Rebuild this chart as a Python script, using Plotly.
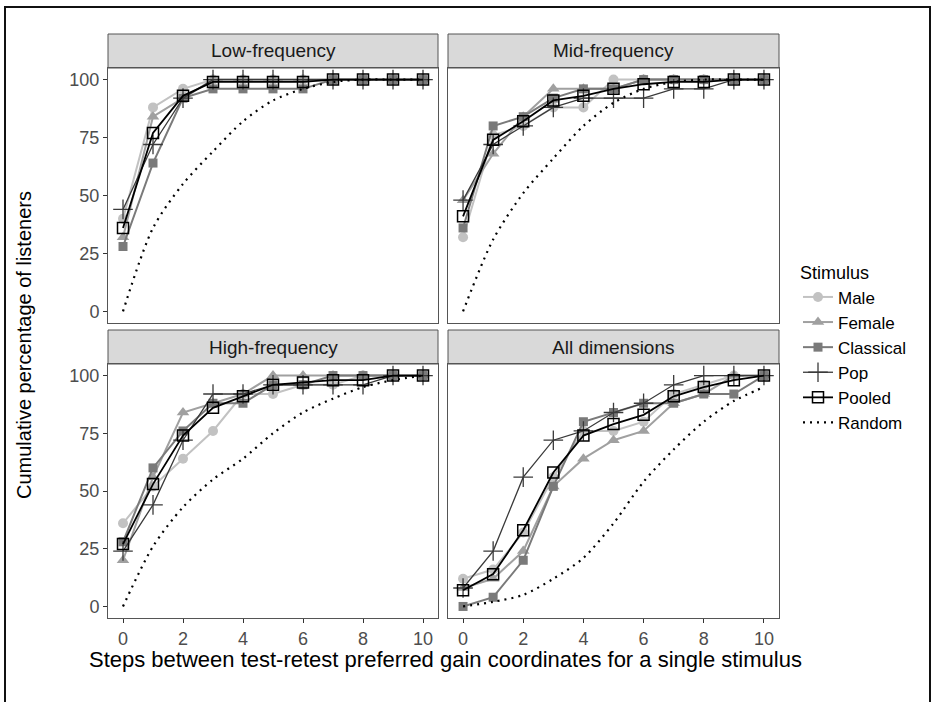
import plotly.graph_objects as go

W, H = 934, 702

steps = list(range(11))
panel_titles = ["Low-frequency", "Mid-frequency", "High-frequency", "All dimensions"]
series_names = ["Male", "Female", "Classical", "Pop", "Pooled", "Random"]
y_ticks = [0, 25, 50, 75, 100]
x_ticks = [0, 2, 4, 6, 8, 10]

# Low-frequency
low_male = [40, 88, 96, 100, 100, 100, 100, 100, 100, 100, 100]
low_female = [32, 84, 92, 100, 100, 100, 100, 100, 100, 100, 100]
low_classical = [28, 64, 92, 96, 96, 96, 96, 100, 100, 100, 100]
low_pop = [44, 72, 92, 100, 100, 100, 100, 100, 100, 100, 100]
low_pooled = [36, 77, 93, 99, 99, 99, 99, 100, 100, 100, 100]
low_random = [0, 36, 55, 69, 82, 91, 96, 99, 100, 100, 100]

# Mid-frequency
mid_male = [32, 76, 80, 88, 88, 100, 100, 100, 100, 100, 100]
mid_female = [48, 68, 84, 96, 96, 96, 100, 100, 100, 100, 100]
mid_classical = [36, 80, 84, 92, 96, 96, 100, 100, 100, 100, 100]
mid_pop = [48, 72, 80, 88, 92, 92, 92, 96, 96, 100, 100]
mid_pooled = [41, 74, 82, 91, 93, 96, 98, 99, 99, 100, 100]
mid_random = [0, 31, 51, 66, 80, 90, 96, 99, 100, 100, 100]

# High-frequency
high_male = [36, 52, 64, 76, 92, 92, 96, 96, 100, 100, 100]
high_female = [20, 56, 84, 88, 92, 100, 100, 100, 100, 100, 100]
high_classical = [28, 60, 76, 88, 88, 96, 96, 100, 100, 100, 100]
high_pop = [24, 44, 72, 92, 92, 96, 96, 96, 96, 100, 100]
high_pooled = [27, 53, 74, 86, 91, 96, 97, 98, 98, 100, 100]
high_random = [0, 26, 43, 55, 64, 75, 84, 90, 95, 98, 100]

# All dimensions
all_male = [12, 16, 32, 56, 76, 76, 80, 92, 96, 100, 100]
all_female = [8, 12, 24, 52, 64, 72, 76, 88, 92, 100, 100]
all_classical = [0, 4, 20, 52, 80, 84, 88, 88, 92, 92, 100]
all_pop = [8, 24, 56, 72, 76, 84, 88, 96, 100, 100, 100]
all_pooled = [7, 14, 33, 58, 74, 79, 83, 91, 95, 98, 100]
all_random = [0, 2, 5, 12, 21, 36, 54, 68, 80, 89, 95]

panel_data = [
    [low_male, low_female, low_classical, low_pop, low_pooled, low_random],
    [mid_male, mid_female, mid_classical, mid_pop, mid_pooled, mid_random],
    [high_male, high_female, high_classical, high_pop, high_pooled, high_random],
    [all_male, all_female, all_classical, all_pop, all_pooled, all_random],
]

styles = {
    "Male": dict(color="#c2c2c2", symbol="circle", size=10, lw=2.0),
    "Female": dict(color="#a0a0a0", symbol="triangle-up", size=11, lw=2.0),
    "Classical": dict(color="#7a7a7a", symbol="square", size=9, lw=2.0),
    "Pop": dict(color="#3a3a3a", symbol="cross-thin", size=14, lw=1.3),
    "Pooled": dict(color="#000000", symbol="square-open", size=11, lw=1.8),
}

FONT = "Liberation Sans, Arial, sans-serif"

# panel pixel boxes (left, right, top, bottom)
cols_px = [(108, 438), (448, 779)]
rows_px = [(68, 323), (364, 618)]
strip_h = 34

fig = go.Figure()
layout_axes = {}
shapes = []
annotations = []

for p in range(4):
    r, c = divmod(p, 2)
    idx = "" if p == 0 else str(p + 1)
    xa, ya = "x" + idx, "y" + idx
    L, R = cols_px[c]
    T, B = rows_px[r]
    layout_axes["xaxis" + idx] = dict(
        domain=[L / W, R / W], anchor=ya, range=[-0.5, 10.5],
        tickvals=x_ticks, ticks="outside" if r == 1 else "", ticklen=4,
        tickcolor="#333333", showticklabels=(r == 1),
        tickfont=dict(size=18, color="#4d4d4d", family=FONT),
        showgrid=False, zeroline=False, showline=True, mirror=True,
        linecolor="#555555", linewidth=1,
    )
    layout_axes["yaxis" + idx] = dict(
        domain=[1 - B / H, 1 - T / H], anchor=xa, range=[-5, 105],
        tickvals=y_ticks, ticks="outside" if c == 0 else "", ticklen=4,
        tickcolor="#333333", showticklabels=(c == 0),
        tickfont=dict(size=18, color="#4d4d4d", family=FONT),
        showgrid=False, zeroline=False, showline=True, mirror=True,
        linecolor="#555555", linewidth=1,
    )
    # strip
    shapes.append(dict(type="rect", xref="paper", yref="paper",
                       x0=L / W, x1=R / W, y0=1 - T / H, y1=1 - (T - strip_h) / H,
                       fillcolor="#d9d9d9", line=dict(color="#555555", width=1),
                       layer="below"))
    annotations.append(dict(text=panel_titles[p], xref="paper", yref="paper",
                            x=(L + R) / 2 / W, y=1 - (T - strip_h / 2) / H,
                            xanchor="center", yanchor="middle", showarrow=False,
                            font=dict(size=19, color="#1a1a1a", family=FONT)))

    for s, name in enumerate(series_names):
        vals = panel_data[p][s]
        if name == "Random":
            fig.add_trace(go.Scatter(
                x=steps, y=vals, name=name, mode="lines", xaxis=xa, yaxis=ya,
                line=dict(color="#000000", width=2.2, dash="2px,5px", shape="spline", smoothing=0.8),
                legendgroup=name, showlegend=(p == 0)))
        else:
            st = styles[name]
            mk = dict(symbol=st["symbol"], size=st["size"], color=st["color"])
            if name == "Pop":
                mk["line"] = dict(color=st["color"], width=1.3)
            elif name == "Pooled":
                mk["line"] = dict(color=st["color"], width=1.5)
            else:
                mk["line"] = dict(width=0)
            fig.add_trace(go.Scatter(
                x=steps, y=vals, name=name, mode="lines+markers", xaxis=xa, yaxis=ya,
                line=dict(color=st["color"], width=st["lw"]), marker=mk,
                legendgroup=name, showlegend=(p == 0)))

# outer frame
shapes.append(dict(type="rect", xref="paper", yref="paper",
                   x0=5 / W, x1=930 / W, y0=-0.05, y1=1 - 7 / H,
                   line=dict(color="#111111", width=2), fillcolor="rgba(0,0,0,0)"))

annotations.append(dict(text="Cumulative percentage of listeners", xref="paper", yref="paper",
                        x=24 / W, y=1 - 345 / H, textangle=-90, showarrow=False,
                        xanchor="center", yanchor="middle",
                        font=dict(size=20, color="#000000", family=FONT)))
annotations.append(dict(text="Steps between test-retest preferred gain coordinates for a single stimulus",
                        xref="paper", yref="paper", x=445 / W, y=1 - 659 / H, showarrow=False,
                        xanchor="center", yanchor="middle",
                        font=dict(size=22, color="#000000", family=FONT)))

fig.update_layout(
    width=W, height=H, margin=dict(l=0, r=0, t=0, b=0),
    paper_bgcolor="white", plot_bgcolor="white",
    shapes=shapes, annotations=annotations,
    legend=dict(x=798 / W, y=1 - 256 / H, xanchor="left", yanchor="top",
                title=dict(text="Stimulus", font=dict(size=18, color="#000000", family=FONT)),
                font=dict(size=17, color="#000000", family=FONT),
                bgcolor="rgba(0,0,0,0)", tracegroupgap=0),
    showlegend=True,
    **layout_axes,
)

fig.write_html("out.html")
